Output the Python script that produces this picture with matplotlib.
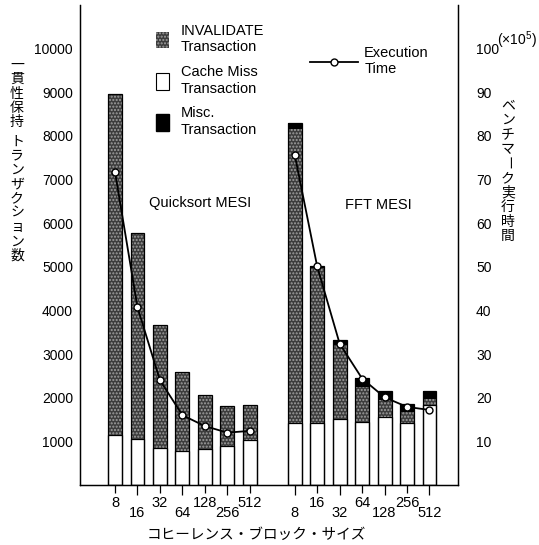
import matplotlib
matplotlib.use("Agg")
import matplotlib.pyplot as plt
from matplotlib.patches import Patch
from matplotlib.lines import Line2D
import numpy as np

plt.rcParams["font.family"] = ["Liberation Sans", "Noto Sans CJK JP", "DejaVu Sans"]
plt.rcParams["mathtext.fontset"] = "custom"
plt.rcParams["mathtext.rm"] = "Liberation Sans"
plt.rcParams["hatch.linewidth"] = 1.0

# data
block_sizes = ["8", "16", "32", "64", "128", "256", "512"]

qs_cache = [1145, 1046, 855, 779, 817, 901, 1031]
qs_inval = [7785, 4698, 2789, 1796, 1229, 893, 786]
qs_misc = [20, 20, 20, 20, 15, 15, 15]
qs_time = [71.7, 40.7, 24.0, 16.0, 13.5, 12.0, 12.4]

fft_cache = [1427, 1412, 1504, 1450, 1550, 1412, 1832]
fft_inval = [6720, 3551, 1706, 802, 396, 268, 130]
fft_misc = [150, 60, 110, 206, 214, 168, 198]
fft_time = [75.7, 50.1, 32.4, 24.4, 20.1, 17.9, 17.2]

W, H = 539, 545
INV_FACE = "#3c3c3c"
INV_DOTS = "#a0a0a0"


def px(x, y):
    return x / W, 1 - y / H


fig = plt.figure(figsize=(W / 100, H / 100), dpi=100)
ax = fig.add_axes([80 / W, (H - 485) / H, (458 - 80) / W, (485 - 5) / H])

bar_w = 0.62
groups = [
    (np.arange(7), qs_cache, qs_inval, qs_misc, qs_time),
    (np.arange(7) + 8, fft_cache, fft_inval, fft_misc, fft_time),
]
ax2 = ax.twinx()
for xs, cache, inval, misc, time in groups:
    cache = np.array(cache)
    inval = np.array(inval)
    misc = np.array(misc)
    ax.bar(xs, cache, bar_w, color="white", edgecolor="black", linewidth=0.9)
    ax.bar(xs, inval, bar_w, bottom=cache, color=INV_FACE, edgecolor=INV_DOTS,
           hatch=".....", linewidth=0)
    ax.bar(xs, misc, bar_w, bottom=cache + inval, color="black", linewidth=0)
    ax.bar(xs, cache + inval + misc, bar_w, fill=False, edgecolor="black", linewidth=0.9)
    ax2.plot(xs, time, color="black", lw=1.3, marker="o", ms=5,
             mfc="white", mec="black", mew=1.0, zorder=5)

ax.set_xlim(-1.56, 15.27)
ax.set_ylim(0, 11000)
ax2.set_ylim(0, 110)

ax.set_yticks(np.arange(1000, 10001, 1000))
ax.tick_params(axis="y", length=0, pad=5, labelsize=10)
ax2.set_yticks(np.arange(10, 101, 10))
ax2.tick_params(axis="y", length=0, pad=13, labelsize=10)

all_x = np.concatenate([groups[0][0], groups[1][0]])
labels = block_sizes + block_sizes
up = [i for i in range(14) if i % 2 == 0]
down = [i for i in range(14) if i % 2 == 1]
ax.set_xticks(all_x[up])
ax.set_xticklabels([labels[i] for i in up])
ax.set_xticks(all_x[down], minor=True)
ax.set_xticklabels([labels[i] for i in down], minor=True)
ax.tick_params(axis="x", which="major", length=6, width=0.9, pad=2, labelsize=10.5)
ax.tick_params(axis="x", which="minor", length=7, width=0.9, pad=8, labelsize=10.5)

for a in (ax, ax2):
    a.spines["top"].set_visible(False)
    for s in ("left", "right", "bottom"):
        a.spines[s].set_linewidth(0.9)

# group titles
fig.text(*px(200, 203), "Quicksort MESI", fontsize=10.5, ha="center", va="center")
fig.text(*px(378, 205), "FFT MESI", fontsize=10.5, ha="center", va="center")

# legends
bar_handles = [
    Patch(facecolor=INV_FACE, edgecolor=INV_DOTS, hatch=".....", linewidth=0),
    Patch(facecolor="white", edgecolor="black", linewidth=0.8),
    Patch(facecolor="black", edgecolor="black"),
]
bar_labels = ["INVALIDATE\nTransaction", "Cache Miss\nTransaction", "Misc.\nTransaction"]
fig.legend(bar_handles, bar_labels, loc="upper left",
           bbox_to_anchor=px(146, 14), frameon=False, fontsize=10.5,
           handlelength=0.9, handleheight=1.4, handletextpad=0.8,
           labelspacing=0.75, borderpad=0.2)
line_handle = Line2D([], [], color="black", lw=1.3, marker="o", ms=5,
                     mfc="white", mec="black", mew=1.0)
fig.legend([line_handle], ["Execution\nTime"], loc="upper left",
           bbox_to_anchor=px(300, 36), frameon=False, fontsize=10.5,
           handlelength=3.3, handletextpad=0.4, numpoints=1, borderpad=0.2)

# axis titles in Japanese, stacked vertically
left_title = "一貫性保持 トランザクション数"
y = 65
for ch in left_title:
    if ch == " ":
        y += 5
        continue
    fig.text(*px(17, y), ch, fontsize=10, ha="center", va="center",
             family=["Noto Sans CJK JP"])
    y += 14.3

right_title = "ベンチマーク実行時間"
y = 105
for ch in right_title:
    fig.text(*px(508, y), ch, fontsize=10, ha="center", va="center",
             family=["Noto Sans CJK JP"], rotation=-90 if ch == "ー" else 0)
    y += 14.6

fig.text(*px(497, 40), "(×10$^{5}$)", fontsize=10, ha="left", va="center")
fig.text(*px(256, 535), "コヒーレンス・ブロック・サイズ", fontsize=10.5,
         ha="center", va="center", family=["Noto Sans CJK JP"])

fig.savefig("out.png", dpi=100)
